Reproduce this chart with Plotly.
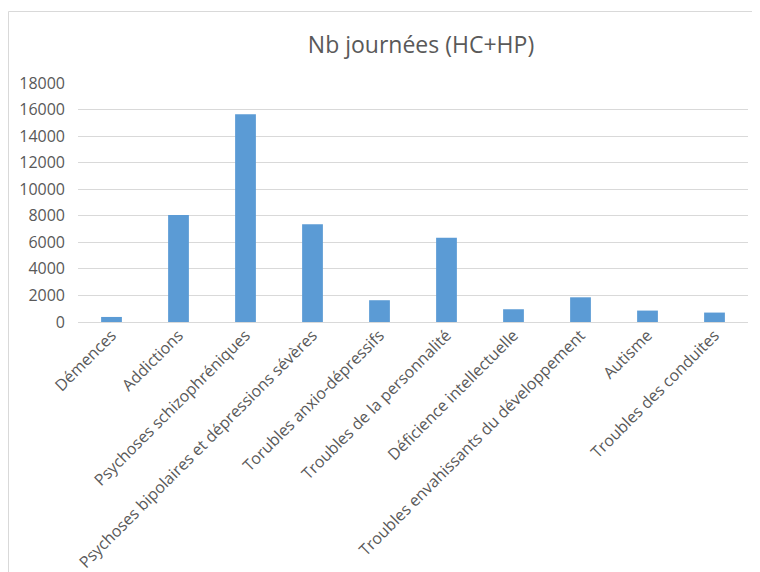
import plotly.graph_objects as go

categories = [
    "Démences",
    "Addictions",
    "Psychoses schizophréniques",
    "Psychoses bipolaires et dépressions sévères",
    "Torubles anxio-dépressifs",
    "Troubles de la personnalité",
    "Déficience intellectuelle",
    "Troubles envahissants du développement",
    "Autisme",
    "Troubles des conduites",
]
values = [380, 8050, 15650, 7370, 1640, 6340, 960, 1860, 860, 710]
y_ticks = [0, 2000, 4000, 6000, 8000, 10000, 12000, 14000, 16000, 18000]

# page body has an 8px margin: figure origin sits at (8, 8) of the window
W, H = 744, 564
ml, mr, mt, mb = 70, 4, 75, 250
pw, ph = W - ml - mr, H - mt - mb

def px_to_paper_x(px):
    return (px - ml) / pw

def py_to_paper_y(py):
    return (H - mb - py) / ph

frame = dict(color="#d9d9d9", width=1)
fig = go.Figure(go.Bar(
    x=categories, y=values,
    marker=dict(color="#5b9bd5", line=dict(width=0)),
    width=0.31,
))

fig.update_layout(
    width=W, height=H,
    margin=dict(l=ml, r=mr, t=mt, b=mb, autoexpand=False),
    paper_bgcolor="white", plot_bgcolor="white",
    font=dict(family="Open Sans, sans-serif", color="#595959"),
    title=dict(text="Nb journées (HC+HP)", x=413 / W, xanchor="center",
               y=1 - 37 / H, yanchor="middle",
               font=dict(size=23, color="#595959")),
    showlegend=False,
    shapes=[
        dict(type="line", xref="paper", yref="paper",
             x0=px_to_paper_x(0.5), x1=px_to_paper_x(749),
             y0=py_to_paper_y(3.5), y1=py_to_paper_y(3.5),
             line=frame, layer="below"),
        dict(type="line", xref="paper", yref="paper",
             x0=px_to_paper_x(0.5), x1=px_to_paper_x(0.5),
             y0=py_to_paper_y(3.5), y1=py_to_paper_y(600),
             line=frame, layer="below"),
    ],
)
fig.update_xaxes(
    tickangle=-45, tickfont=dict(size=16, color="#595959"),
    showgrid=False, showline=False, ticks="", automargin=False,
)
fig.update_yaxes(
    range=[0, 18000], tickvals=y_ticks, ticktext=[str(v) for v in y_ticks],
    tickfont=dict(size=16, color="#595959"),
    showgrid=True, gridcolor="#d9d9d9", gridwidth=1,
    zeroline=True, zerolinecolor="#d9d9d9", zerolinewidth=1,
    showline=False, ticks="", ticklabelstandoff=12, automargin=False,
)

fig.write_html("out.html")
